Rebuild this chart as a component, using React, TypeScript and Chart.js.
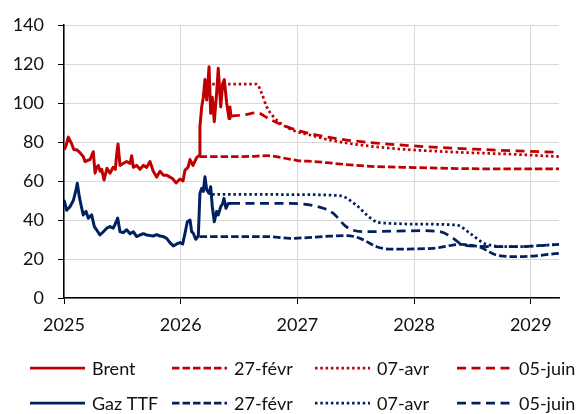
import React, { useEffect, useRef } from "react";
import { Chart, registerables } from "chart.js";

Chart.register(...registerables);

// ---------- data ----------
const YEAR_TICKS = [2025, 2026, 2027, 2028, 2029];
const Y_TICKS = [0, 20, 40, 60, 80, 100, 120, 140];

// Brent, historical (USD/baril), x in fractional years
const BRENT_X = [
  2025.0, 2025.017, 2025.037, 2025.066, 2025.085, 2025.109, 2025.137, 2025.165, 2025.18, 2025.2,
  2025.223, 2025.251, 2025.266, 2025.28, 2025.294, 2025.31, 2025.323, 2025.343, 2025.368, 2025.394,
  2025.42, 2025.44, 2025.452, 2025.463, 2025.48, 2025.506, 2025.537, 2025.566, 2025.58, 2025.594,
  2025.623, 2025.651, 2025.68, 2025.709, 2025.737, 2025.765, 2025.794, 2025.823, 2025.851, 2025.88,
  2025.908, 2025.934, 2025.96, 2025.994, 2026.02, 2026.037, 2026.063, 2026.08, 2026.105, 2026.137,
  2026.157, 2026.165, 2026.18, 2026.194, 2026.208, 2026.223, 2026.243, 2026.257, 2026.271, 2026.288,
  2026.308, 2026.322, 2026.343, 2026.36, 2026.374, 2026.394, 2026.414, 2026.422, 2026.431,
];
const BRENT_Y = [
  76, 78, 82.5, 79, 76, 76, 74.5, 72.5, 70, 70.5,
  71, 75, 64, 67, 68, 65, 66, 60.5, 66.5, 64,
  67, 66, 74, 79, 68, 69, 70, 69, 73, 67,
  68, 66, 68, 67, 70, 65, 62, 65, 63, 63,
  62, 61, 59, 61, 60, 65.6, 67, 71, 68, 72,
  73, 88, 98, 103, 112, 101.5, 118.6, 94.7, 103, 90.4,
  105, 117.8, 98, 110, 112, 100, 92, 98, 93,
];

// Gaz TTF, historical (EUR/MWh)
const TTF_X = [
  2025.0, 2025.023, 2025.051, 2025.08, 2025.103, 2025.114, 2025.131, 2025.152, 2025.165, 2025.189,
  2025.208, 2025.237, 2025.26, 2025.28, 2025.308, 2025.337, 2025.366, 2025.394, 2025.422, 2025.437,
  2025.46, 2025.48, 2025.508, 2025.537, 2025.566, 2025.594, 2025.623, 2025.651, 2025.68, 2025.709,
  2025.737, 2025.765, 2025.794, 2025.823, 2025.851, 2025.88, 2025.908, 2025.937, 2025.966, 2025.994,
  2026.017, 2026.037, 2026.057, 2026.08, 2026.094, 2026.108, 2026.129, 2026.151, 2026.165, 2026.18,
  2026.194, 2026.208, 2026.223, 2026.243, 2026.257, 2026.271, 2026.288, 2026.308, 2026.322, 2026.343,
  2026.36, 2026.371, 2026.388, 2026.408, 2026.431,
];
const TTF_Y = [
  50.3, 45, 46.8, 50, 55.4, 58.8, 52, 46, 42.6, 44.4,
  40.9, 42.6, 36.6, 34.9, 32.3, 34, 35.8, 36.6, 35.8, 37.6,
  41, 34, 33.5, 35, 33, 34, 31.5, 32.3, 33, 32.3,
  32, 31.8, 32.5, 31.8, 31.5, 30.6, 28.4, 26.7, 27.7, 28.4,
  27.7, 33.2, 39.1, 40, 34, 33.2, 30.1, 31.8, 53.7, 56.2,
  54.7, 62.2, 55.4, 53.7, 57.1, 46.8, 39.1, 44.4, 42.6, 46.8,
  48.5, 51.1, 46, 48.5, 48.5,
];

// Brent futures curves
const BRENT_FEB_X = [2026.162, 2026.4, 2026.6, 2026.74, 2026.94, 2027.0, 2027.14, 2027.25, 2027.57, 2028.0, 2028.5, 2029.0, 2029.242];
const BRENT_FEB_Y = [72.5, 72.5, 72.6, 73, 71.1, 70.5, 70, 69.4, 67.7, 66.9, 66.3, 66.2, 66.2];

const BRENT_APR_X = [2026.27, 2026.45, 2026.651, 2026.694, 2026.737, 2026.794, 2026.879, 2026.994, 2027.108, 2027.279, 2027.708, 2028.279, 2028.847, 2029.242];
const BRENT_APR_Y = [109.7, 109.7, 109.7, 105, 98, 93, 88.7, 85.3, 83.6, 81, 77.3, 75, 73.7, 72.5];

const BRENT_JUN_X = [2026.431, 2026.55, 2026.651, 2026.765, 2026.908, 2027.022, 2027.165, 2027.422, 2027.991, 2028.565, 2029.242];
const BRENT_JUN_Y = [93.3, 94, 95, 91.6, 87.9, 85.6, 83.6, 81, 78, 76.2, 74.7];

// TTF futures curves
const TTF_FEB_X = [2026.162, 2026.45, 2026.737, 2026.94, 2027.22, 2027.422, 2027.537, 2027.594, 2027.68, 2027.794, 2028.165, 2028.393, 2028.565, 2028.708, 2028.907, 2029.242];
const TTF_FEB_Y = [31.5, 31.5, 31.5, 30.6, 31.5, 32, 30.6, 28.9, 26.3, 25.1, 25.5, 27.5, 26, 22, 21.2, 22.9];

const TTF_APR_X = [2026.27, 2026.6, 2027.0, 2027.36, 2027.508, 2027.594, 2027.68, 2027.794, 2027.993, 2028.365, 2028.479, 2028.622, 2028.85, 2029.242];
const TTF_APR_Y = [53.2, 53.2, 53, 52.5, 47.5, 42.6, 39, 38.3, 37.9, 37.4, 33.2, 27.5, 26.3, 27.5];

const TTF_JUN_X = [2026.431, 2026.7, 2026.937, 2027.222, 2027.308, 2027.422, 2027.565, 2028.05, 2028.222, 2028.336, 2028.408, 2028.565, 2028.85, 2029.242];
const TTF_JUN_Y = [48.5, 48.5, 48.5, 46, 43.4, 36.4, 34, 34.5, 34, 30.6, 27.5, 26.5, 26.3, 27.5];

const SERIES_LABELS = ["Brent", "27-févr", "07-avr", "05-juin", "Gaz TTF", "27-févr", "07-avr", "05-juin"];

// ---------- styles ----------
const RED = "#C00000";
const NAVY = "#002060";
const DASH_FEB = [7.5, 3];
const DASH_APR = [2.5, 2.8];
const DASH_JUN = [9, 5.5];
const FONT = "Lato";

const pts = (xs: number[], ys: number[]) => xs.map((x, i) => ({ x, y: ys[i] }));

const legendPlugin = {
  id: "gridLegend",
  afterDraw(chart: any) {
    const ctx = chart.ctx as CanvasRenderingContext2D;
    const cols = [30, 172, 315, 457];
    const rows = [368, 403];
    const lineLen = 55;
    const textOff = 62;
    ctx.save();
    chart.data.datasets.forEach((ds: any, i: number) => {
      const r = Math.floor(i / 4);
      const c = i % 4;
      const x = cols[c];
      const y = rows[r];
      ctx.beginPath();
      ctx.setLineDash(ds.borderDash || []);
      ctx.lineWidth = 2.75;
      ctx.lineCap = "butt";
      ctx.strokeStyle = ds.borderColor;
      ctx.moveTo(x, y);
      ctx.lineTo(x + lineLen, y);
      ctx.stroke();
      ctx.setLineDash([]);
      ctx.fillStyle = "#111";
      ctx.font = `18px ${FONT}`;
      ctx.textBaseline = "middle";
      ctx.textAlign = "left";
      ctx.fillText(ds.label, x + textOff, y + 1);
    });
    ctx.restore();
  },
};

export default function App() {
  const ref = useRef<HTMLCanvasElement | null>(null);

  useEffect(() => {
    if (!ref.current) return;
    const hist = { borderWidth: 3, pointRadius: 0, tension: 0, fill: false };
    const fut = { borderWidth: 2.75, pointRadius: 0, tension: 0.35, cubicInterpolationMode: "monotone" as const, fill: false, borderCapStyle: "butt" as const };
    const chart = new Chart(ref.current, {
      type: "line",
      data: {
        datasets: [
          { label: SERIES_LABELS[0], data: pts(BRENT_X, BRENT_Y), borderColor: RED, ...hist },
          { label: SERIES_LABELS[1], data: pts(BRENT_FEB_X, BRENT_FEB_Y), borderColor: RED, borderDash: DASH_FEB, ...fut },
          { label: SERIES_LABELS[2], data: pts(BRENT_APR_X, BRENT_APR_Y), borderColor: RED, borderDash: DASH_APR, ...fut },
          { label: SERIES_LABELS[3], data: pts(BRENT_JUN_X, BRENT_JUN_Y), borderColor: RED, borderDash: DASH_JUN, ...fut },
          { label: SERIES_LABELS[4], data: pts(TTF_X, TTF_Y), borderColor: NAVY, ...hist },
          { label: SERIES_LABELS[5], data: pts(TTF_FEB_X, TTF_FEB_Y), borderColor: NAVY, borderDash: DASH_FEB, ...fut },
          { label: SERIES_LABELS[6], data: pts(TTF_APR_X, TTF_APR_Y), borderColor: NAVY, borderDash: DASH_APR, ...fut },
          { label: SERIES_LABELS[7], data: pts(TTF_JUN_X, TTF_JUN_Y), borderColor: NAVY, borderDash: DASH_JUN, ...fut },
        ] as any,
      },
      options: {
        animation: false,
        responsive: false,
        devicePixelRatio: 1,
        layout: { padding: { left: 0, right: 25, top: 25, bottom: 0 } },
        plugins: { legend: { display: false }, tooltip: { enabled: false } },
        elements: { line: { borderJoinStyle: "round" } },
        scales: {
          x: {
            type: "linear",
            min: 2025,
            max: 2029.242,
            afterBuildTicks: (s: any) => {
              s.ticks = YEAR_TICKS.map((v) => ({ value: v }));
            },
            afterFit: (s: any) => {
              s.height = 116;
            },
            ticks: {
              callback: (v: any) => String(v),
              padding: 10,
              maxRotation: 0,
              autoSkip: false,
              color: "#111",
              font: { family: FONT, size: 18 },
            },
            grid: { color: "#D9D9D9", lineWidth: 1, tickLength: 6, tickColor: "#000", drawTicks: true },
            border: { color: "#000", width: 1.5 },
          },
          y: {
            min: 0,
            max: 140,
            afterBuildTicks: (s: any) => {
              s.ticks = Y_TICKS.map((v) => ({ value: v }));
            },
            afterFit: (s: any) => {
              s.width = 64;
            },
            ticks: {
              padding: 14,
              color: "#111",
              font: { family: FONT, size: 18 },
            },
            grid: { color: "#D9D9D9", lineWidth: 1, tickLength: 6, tickColor: "#000", drawTicks: true },
            border: { color: "#000", width: 1.5 },
          },
        },
      } as any,
      plugins: [legendPlugin],
    });
    return () => chart.destroy();
  }, []);

  return (
    <div style={{ position: "absolute", left: 0, top: 0, width: 584, height: 414, background: "#fff" }}>
      <canvas ref={ref} width={584} height={414} style={{ display: "block", width: 584, height: 414 }} />
    </div>
  );
}
